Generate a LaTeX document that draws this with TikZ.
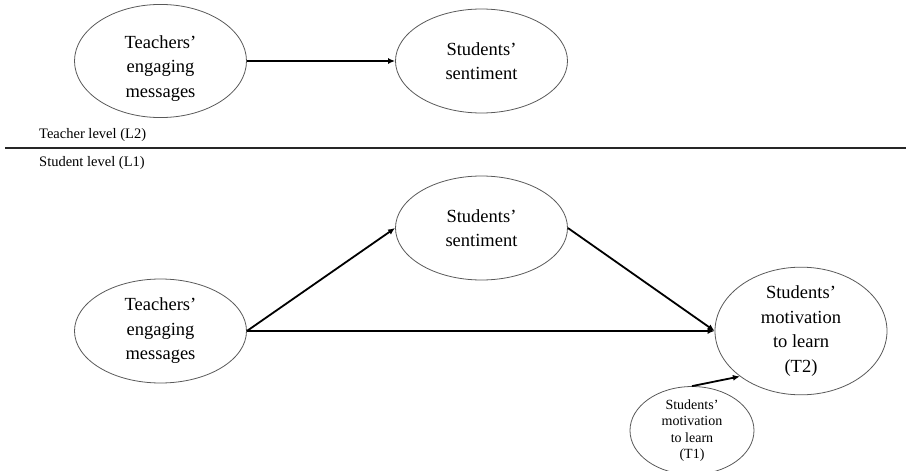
\documentclass[tikz,border=0pt]{standalone}
\usepackage{fontspec}
\setmainfont{Liberation Serif}
\usetikzlibrary{shapes.geometric,arrows.meta}
\begin{document}
\begin{tikzpicture}[x=1pt,y=-1pt,
  bigell/.style={ellipse,draw=black!65,line width=0.8pt,minimum width=172pt,minimum height=104pt,inner sep=0pt,align=center,font=\fontsize{18.5}{24.5}\selectfont},
  smallell/.style={ellipse,draw=black!65,line width=0.8pt,minimum width=124pt,minimum height=75pt,inner sep=0pt,align=center,font=\fontsize{14}{16.5}\selectfont},
  lvl/.style={anchor=west,inner sep=0pt,font=\fontsize{14.5}{17}\selectfont},
  arr/.style={line width=1.8pt,-{Latex[length=7pt,width=6pt]}}]
\useasboundingbox (0,0) rectangle (906,471);
\node[bigell] (tl) at (160.5,61) {\rule{0pt}{27pt}Teachers'\\engaging\\messages};
\node[bigell] (tr) at (481.5,61) {Students'\\sentiment};
\node[bigell] (ms) at (481.5,228) {Students'\\sentiment};
\node[bigell] (bl) at (160.5,331) {Teachers'\\engaging\\messages};
\node[bigell] (t2) at (801,331) {Students'\\motivation\\to learn\\(T2)};
\node[smallell] (t1) at (692,430.5) {Students'\\motivation\\to learn\\(T1)};
\node[lvl] (l2) at (39,135) {Teacher level (L2)};
\node[lvl] (l1) at (39,163) {Student level (L1)};
\coordinate (sepL) at (5,148);
\coordinate (sepR) at (906,148);
\draw[line width=1.3pt,black!85] (sepL) -- (sepR);
\draw[arr] (tl.east) -- (tr.west);
\draw[arr] (bl.east) -- (ms.west);
\draw[arr] (bl.east) -- (t2.west);
\draw[arr] (ms.east) -- (t2.west);
\draw[arr] (t1.north) -- (t2.south west);
\end{tikzpicture}
\end{document}
